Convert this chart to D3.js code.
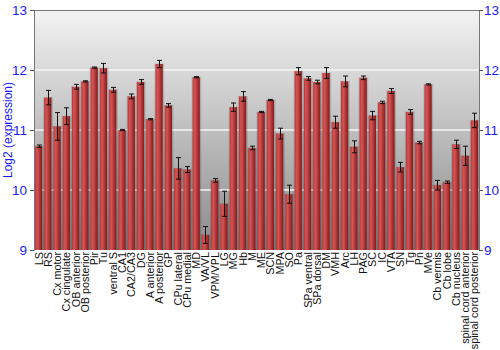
<!DOCTYPE html>
<html>
<head>
<meta charset="utf-8">
<script src="https://cdn.jsdelivr.net/npm/d3@7"></script>
<style>
  body { margin: 0; background: #fff; }
  text { font-family: "Liberation Sans", Arial, sans-serif; }
</style>
</head>
<body>
<div class="root"></div>
<script>
const width = 500;
const height = 350;

const regions = ["LS", "RS", "Cx motor", "Cx cingulate", "OB anterior", "OB posterior", "Pir", "Tu",
  "ventral S", "CA1", "CA2/CA3", "DG", "A anterior", "A posterior", "GP", "CPu lateral", "CPu medial",
  "MD", "VA/VL", "VPM/VPL", "LG", "MG", "Hb", "M", "ME", "SCN", "MPA", "SO", "Pa", "SPa ventral",
  "SPa dorsal", "DM", "VMH", "Arc", "LH", "PAG", "SC", "IC", "VTA", "SN", "Tg", "Pn", "MVe",
  "Cb vermis", "Cb lobe", "Cb nucleus", "spinal cord anterior", "spinal cord posterior"];

const expression = [10.73, 11.54, 11.06, 11.23, 11.72, 11.81, 12.04, 12.03,
  11.67, 11.0, 11.56, 11.80, 11.18, 12.10, 11.41, 10.36, 10.34,
  11.88, 9.25, 10.16, 9.77, 11.38, 11.56, 10.70, 11.30, 11.50, 10.94, 9.93, 11.98, 11.86,
  11.80, 11.95, 11.13, 11.81, 10.72, 11.87, 11.24, 11.46, 11.65, 10.38, 11.30, 10.79, 11.76,
  10.08, 10.13, 10.76, 10.57, 11.16];

const stdErr = [0.02, 0.12, 0.23, 0.14, 0.04, 0.01, 0.01, 0.08,
  0.04, 0.01, 0.04, 0.04, 0.01, 0.06, 0.03, 0.18, 0.05,
  0.01, 0.14, 0.03, 0.21, 0.07, 0.08, 0.03, 0.01, 0.01, 0.09, 0.15, 0.06, 0.03,
  0.03, 0.09, 0.10, 0.09, 0.10, 0.03, 0.07, 0.02, 0.04, 0.08, 0.04, 0.02, 0.01,
  0.08, 0.02, 0.07, 0.16, 0.12];

const yTicks = [9, 10, 11, 12, 13];

const margin = { top: 10, right: 21, bottom: 100, left: 34 };

const svg = d3.select(".root").append("svg")
  .attr("width", width)
  .attr("height", height);

const x = d3.scaleBand()
  .domain(regions)
  .range([margin.left, width - margin.right])
  .paddingInner(0.22)
  .paddingOuter(0.1);

const y = d3.scaleLinear()
  .domain([9, 13])
  .range([height - margin.bottom, margin.top]);

const defs = svg.append("defs");

const bg = defs.append("linearGradient")
  .attr("id", "bg").attr("x1", 0).attr("y1", 0).attr("x2", 0).attr("y2", 1);
bg.append("stop").attr("offset", "0%").attr("stop-color", "#f3f3f3");
bg.append("stop").attr("offset", "100%").attr("stop-color", "#8a8a8a");

const barGrad = defs.append("linearGradient")
  .attr("id", "bar").attr("x1", 0).attr("y1", 0).attr("x2", 1).attr("y2", 0);
barGrad.append("stop").attr("offset", "0%").attr("stop-color", "#b83535");
barGrad.append("stop").attr("offset", "30%").attr("stop-color", "#d65555");
barGrad.append("stop").attr("offset", "100%").attr("stop-color", "#861818");

// plot background
svg.append("rect")
  .attr("x", margin.left)
  .attr("y", margin.top)
  .attr("width", width - margin.left - margin.right)
  .attr("height", y(9) - y(13))
  .attr("fill", "url(#bg)");

// grid lines
svg.append("g")
  .selectAll("line")
  .data([10, 11, 12])
  .join("line")
  .attr("x1", margin.left)
  .attr("x2", width - margin.right)
  .attr("y1", d => y(d))
  .attr("y2", d => y(d))
  .attr("stroke", "#f4f4f4")
  .attr("stroke-width", 1.5);

// bar shadows
svg.append("g")
  .selectAll("rect")
  .data(expression)
  .join("rect")
  .attr("x", (d, i) => x(regions[i]) - 1)
  .attr("y", d => y(d) - 0.5)
  .attr("width", x.bandwidth() + 2.5)
  .attr("height", d => y(9) - y(d) + 0.5)
  .attr("fill", "#000")
  .attr("opacity", 0.15);

// bars
svg.append("g")
  .selectAll("rect")
  .data(expression)
  .join("rect")
  .attr("x", (d, i) => x(regions[i]))
  .attr("y", d => y(d))
  .attr("width", x.bandwidth())
  .attr("height", d => y(9) - y(d))
  .attr("fill", "url(#bar)");

// error bars
const err = svg.append("g")
  .attr("stroke", "#111")
  .attr("stroke-width", 1)
  .selectAll("g")
  .data(expression)
  .join("g")
  .attr("transform", (d, i) => `translate(${Math.round(x(regions[i]) + x.bandwidth() / 2) + 0.5},0)`);

err.append("line")
  .attr("y1", (d, i) => y(d + stdErr[i]))
  .attr("y2", (d, i) => y(d - stdErr[i]));
err.append("line")
  .attr("x1", -2.5).attr("x2", 2.5)
  .attr("y1", (d, i) => y(d + stdErr[i]))
  .attr("y2", (d, i) => y(d + stdErr[i]));
err.append("line")
  .attr("x1", -2.5).attr("x2", 2.5)
  .attr("y1", (d, i) => y(d - stdErr[i]))
  .attr("y2", (d, i) => y(d - stdErr[i]));

// top border
svg.append("line")
  .attr("x1", margin.left).attr("x2", width - margin.right)
  .attr("y1", margin.top + 0.5).attr("y2", margin.top + 0.5)
  .attr("stroke", "#777");

// axes
const leftAxis = svg.append("g")
  .attr("transform", `translate(${margin.left},0)`)
  .call(d3.axisLeft(y).tickValues(yTicks).tickFormat(d3.format("d")).tickSize(4).tickPadding(3));

const rightAxis = svg.append("g")
  .attr("transform", `translate(${width - margin.right},0)`)
  .call(d3.axisRight(y).tickValues(yTicks).tickFormat(d3.format("d")).tickSize(4).tickPadding(1));

[leftAxis, rightAxis].forEach(a => {
  a.select(".domain").attr("stroke", "#777");
  a.selectAll(".tick line").attr("stroke", "#555");
  a.selectAll(".tick text")
    .attr("fill", "#1a1aff")
    .attr("font-size", 13.5)
    .attr("font-family", "Liberation Sans, Arial, sans-serif");
});

// y label
svg.append("text")
  .attr("transform", `translate(12,${(y(9) + y(13)) / 2}) rotate(-90)`)
  .attr("text-anchor", "middle")
  .attr("fill", "#1a1aff")
  .attr("font-size", 12)
  .text("Log2 (expression)");

// x labels
svg.append("g")
  .selectAll("text")
  .data(regions)
  .join("text")
  .attr("transform", d => `translate(${x(d) + x.bandwidth() / 2 + 4},${y(9) + 2}) rotate(-90)`)
  .attr("text-anchor", "end")
  .attr("font-size", 10.8)
  .attr("fill", "#111")
  .text(d => d);
</script>
</body>
</html>
